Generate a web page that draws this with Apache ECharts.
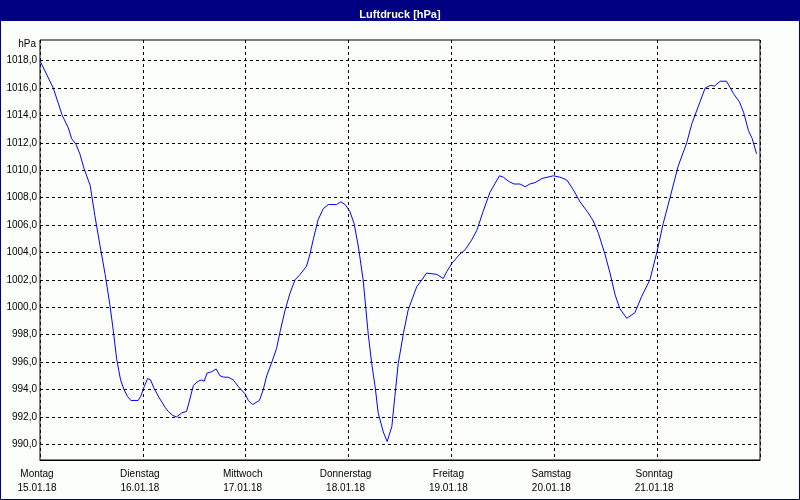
<!DOCTYPE html>
<html>
<head>
<meta charset="utf-8">
<script src="https://cdn.jsdelivr.net/npm/echarts@6/dist/echarts.min.js"></script>
<style>html,body{margin:0;padding:0;background:#fcfefc;}#c{width:800px;height:500px;}</style>
</head>
<body>
<div id="c"></div>
<script>
// hours since Monday 15.01.18 00:00
var hours = [0,3.1,5.2,6.6,7.4,8.4,9.3,10.3,11.7,12.8,14.0,15.2,16.3,17.1,17.9,18.8,19.6,20.4,21.2,22.9,23.5,24.3,25.1,25.8,26.6,27.8,29.2,29.9,31.0,31.9,33.1,34.2,34.8,35.8,36.9,37.7,38.3,39.0,40.1,41.1,42.0,42.9,43.9,45.1,46.3,47.8,48.6,49.6,49.9,51.2,52.1,52.9,54.1,55.2,56.0,57.2,58.3,59.5,60.7,62.2,63.0,63.8,64.9,66.1,67.3,69.2,70.2,71.2,72.3,73.3,74.3,75.4,76.6,77.4,78.2,78.9,80.1,81.0,82.1,82.8,83.6,84.8,85.9,87.9,89.1,90.2,92.6,94.1,94.9,96.1,98.0,99.2,100.7,101.9,103.4,105.0,106.2,107.2,108.1,109.3,110.6,112.0,113.2,114.3,115.5,117.1,119.8,121.3,122.9,124.4,126.0,127.9,129.1,130.3,131.8,133.0,134.2,135.3,136.9,138.8,140.4,142.3,144.0,145.4,147.0,148.9,150.9,152.1,154.0,155.2,156.4,157.4,158.7,160.2,161.8,163.2,164.2,165.3,166.2,167.2];
var pressure = [1018.0,1016.0,1014.0,1013.1,1012.3,1011.9,1011.2,1010.1,1008.9,1006.7,1004.5,1002.4,1000.2,998.3,996.2,994.7,994.0,993.5,993.2,993.2,993.5,994.2,994.8,994.7,994.1,993.4,992.7,992.4,992.1,992.0,992.3,992.4,993.1,994.3,994.6,994.7,994.6,995.2,995.3,995.5,995.0,994.9,994.9,994.7,994.2,993.7,993.2,992.9,992.9,993.2,994.0,995.0,996.0,997.0,998.2,999.8,1001.0,1002.0,1002.4,1003.0,1003.9,1005.0,1006.4,1007.2,1007.5,1007.5,1007.7,1007.5,1007.0,1006.1,1004.4,1002.0,998.0,995.9,994.2,992.3,990.9,990.2,991.3,993.5,995.9,998.1,999.8,1001.5,1002.0,1002.5,1002.4,1002.1,1002.6,1003.2,1003.9,1004.2,1004.9,1005.6,1007.0,1008.4,1009.05,1009.6,1009.5,1009.2,1009.0,1009.0,1008.8,1009.0,1009.1,1009.4,1009.6,1009.5,1009.3,1008.6,1007.7,1006.9,1006.3,1005.4,1003.9,1002.5,1000.9,999.9,999.2,999.6,1000.8,1002.0,1004.1,1006.1,1008.0,1010.3,1012.0,1013.4,1015.0,1016.0,1016.2,1016.15,1016.5,1016.5,1015.6,1015.0,1014.2,1012.9,1012.3,1011.2];
var dayNames = ['Montag','Dienstag','Mittwoch','Donnerstag','Freitag','Samstag','Sonntag'];
var dayDates = ['15.01.18','16.01.18','17.01.18','18.01.18','19.01.18','20.01.18','21.01.18'];
var titleText = 'Luftdruck [hPa]';
var unitText = 'hPa';

var chart = echarts.init(document.getElementById('c'), null, {renderer:'canvas'});
var font = 'Liberation Sans, Arial, sans-serif';
var data = hours.map(function(h,i){return [h, pressure[i]];});
chart.setOption({
  backgroundColor: '#fcfefc',
  animation: false,
  title: {
    text: titleText, left: 'center', top: 4,
    textStyle: {color:'#ffffff', fontSize: 11, fontWeight:'bold', fontFamily: font, lineHeight: 12}
  },
  graphic: [
    {type:'rect', z:-1, shape:{x:0,y:0,width:800,height:21}, style:{fill:'#000080'}},
    {type:'rect', z:-1, shape:{x:0.5,y:0.5,width:799,height:499}, style:{fill:null, stroke:'#000080', lineWidth:1}}
  ],
  grid: [
    {left:40, right:40, top:40, bottom:40, show:true, borderColor:'#000000', borderWidth:1, backgroundColor:'transparent'},
    {left:40, right:40, top:60.7, bottom:55.7}
  ],
  xAxis: [
    {gridIndex:0, type:'value', min:0, max:168, interval:24,
     axisLine:{show:true, lineStyle:{color:'#000000', width:1}},
     axisTick:{show:false},
     splitLine:{show:true, lineStyle:{color:'#000000', type:[3,3], width:1}},
     axisLabel:{margin:7, color:'#000000', fontSize:10, fontFamily:font, lineHeight:14, padding:[0,6,0,0],
       formatter:function(v){var d=Math.round(v/24); if(d>=dayNames.length) return ''; return dayNames[d]+'\n'+dayDates[d];}}
    },
    {gridIndex:1, type:'value', min:0, max:168, show:false, splitLine:{show:false}}
  ],
  yAxis: [
    {gridIndex:0, type:'value', min:0, max:1, show:false, splitLine:{show:false}},
    {gridIndex:1, type:'value', min:990, max:1018, interval:2,
     name: unitText, nameLocation:'end', nameGap:16,
     nameTextStyle:{color:'#000000', fontSize:10, fontFamily:font, align:'right', verticalAlign:'middle', padding:[0,4,0,0]},
     axisLine:{show:false}, axisTick:{show:false},
     splitLine:{show:true, lineStyle:{color:'#000000', type:[3,3], width:1}},
     axisLabel:{margin:3, color:'#000000', fontSize:10, fontFamily:font,
       formatter:function(v){return v.toFixed(1).replace('.', ',');}}
    }
  ],
  series: [{
    type:'line', xAxisIndex:1, yAxisIndex:1, data:data,
    showSymbol:false, symbol:'none',
    lineStyle:{color:'#0000ff', width:1},
    itemStyle:{color:'#0000ff'}
  }]
});
</script>
</body>
</html>
